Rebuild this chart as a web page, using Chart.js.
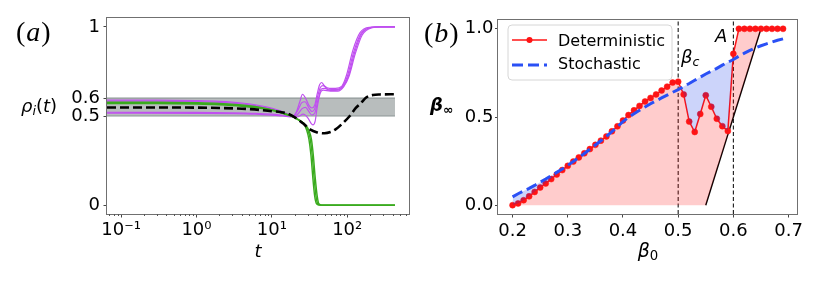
<!DOCTYPE html>
<html><head><meta charset="utf-8">
<script src="https://cdn.jsdelivr.net/npm/chart.js@4.4.1/dist/chart.umd.min.js"></script>
<style>
html,body{margin:0;padding:0;background:#fff;}
#wrap{position:relative;width:830px;height:286px;overflow:hidden;font-family:"DejaVu Sans";background:#fff;}
.pane{position:absolute;top:0;width:415px;height:286px;}
.lbl{position:absolute;white-space:nowrap;line-height:1;color:#000;font-family:"DejaVu Sans";}
.serif{font-family:"Liberation Serif";letter-spacing:1px;}
.c{transform:translateX(-50%);}
sub{font-size:0.7em;vertical-align:-0.22em;line-height:0;}
</style></head><body>
<div id="wrap">
  <div class="pane" style="left:0"><canvas id="ca"></canvas></div>
  <div class="pane" style="left:415px"><canvas id="cb"></canvas></div>
  <div class="lbl serif" style="left:16px;top:18px;font-size:28px">(<i>a</i>)</div>
  <div class="lbl serif" style="left:424px;top:19px;font-size:28px">(<i>b</i>)</div>
  <div class="lbl" style="left:21px;top:97px;font-size:18px"><i>ρ</i><sub><i>i</i></sub>(<i>t</i>)</div>
  <div class="lbl" style="left:430px;top:96px;font-size:18px;font-weight:bold"><i>β</i><sub>∞</sub></div>
  <div class="lbl c" style="left:258px;top:242px;font-size:18px"><i>t</i></div>
  <div class="lbl c" style="left:648px;top:241px;font-size:19px"><i>β</i><sub>0</sub></div>
  <div class="lbl" style="left:681px;top:48px;font-size:18px"><i>β</i><sub><i>c</i></sub></div>
  <div class="lbl" style="left:715px;top:27px;font-size:18px"><i>A</i></div>
</div>
<script>
// ---------- Panel (a) data: rho_i(t) trajectories ----------
const tBlack = [0.065,0.3,1,2,4,7,10,13,17,22,27,32,40,50,60,70,85,108,130,150,180,220,272,430];
const rhoBlack = [0.548,0.548,0.547,0.545,0.541,0.534,0.527,0.522,0.51,0.482,0.452,0.425,0.408,0.403,0.41,0.425,0.455,0.5,0.545,0.57,0.605,0.618,0.621,0.622];

const tP1 = [0.065,0.3,1,2,4,6,9,12,15,19,21,23.5,25.5,28,31,34,37,40,43,45.7,50,58,70,85,98,119,148,200,260,430];
const rhoP1 = [0.589,0.589,0.586,0.582,0.573,0.563,0.548,0.533,0.518,0.50,0.52,0.58,0.622,0.60,0.56,0.545,0.56,0.625,0.675,0.688,0.668,0.655,0.655,0.668,0.73,0.87,0.968,0.998,1.0,1.0];
const tP2 = [0.065,0.3,1,2,4,6,9,12,15,19,22,25,27.5,31,34,37,40,44,48,56,70,85,100,122,152,205,260,430];
const rhoP2 = [0.584,0.584,0.581,0.577,0.568,0.558,0.544,0.53,0.516,0.50,0.53,0.575,0.58,0.545,0.525,0.54,0.60,0.66,0.67,0.65,0.648,0.662,0.72,0.86,0.962,0.997,1.0,1.0];
const tP3 = [0.065,1,3,6,10,14,19,22,25,28,31,34,37,41,45,50,60,75,90,103,125,155,210,270,430];
const rhoP3 = [0.521,0.52,0.518,0.515,0.51,0.504,0.497,0.51,0.54,0.548,0.525,0.505,0.515,0.59,0.65,0.655,0.643,0.645,0.67,0.72,0.855,0.96,0.997,1.0,1.0];
const tP4 = [0.065,1,3,6,10,14,19,22,26,30,33,35,37.5,40,44,48,60,75,90,105,128,158,215,270,430];
const rhoP4 = [0.516,0.515,0.513,0.51,0.505,0.5,0.495,0.495,0.51,0.49,0.46,0.45,0.47,0.55,0.63,0.645,0.64,0.64,0.665,0.72,0.85,0.955,0.996,1.0,1.0];

const tG1 = [0.065,0.3,1,2,4,6,9,12,15,19,23,26,29,31,33,35,37,39,42,60,430];
const rhoG1 = [0.578,0.578,0.575,0.571,0.562,0.553,0.54,0.527,0.513,0.497,0.478,0.46,0.42,0.37,0.28,0.15,0.05,0.008,0,0,0];
const tG2 = [0.065,0.3,1,2,4,6,9,12,15,19,23,27,30,32.3,34.3,36.4,38.5,40.5,44,60,430];
const rhoG2 = [0.574,0.574,0.571,0.567,0.558,0.55,0.537,0.525,0.511,0.496,0.476,0.455,0.42,0.37,0.28,0.15,0.05,0.008,0,0,0];
const tG3 = [0.065,0.3,1,2,4,6,9,12,15,19,23,28,31,33.5,35.5,37.7,40,42,46,60,430];
const rhoG3 = [0.57,0.57,0.567,0.563,0.555,0.547,0.535,0.523,0.51,0.495,0.475,0.45,0.42,0.37,0.28,0.15,0.05,0.008,0,0,0];

const bandT = [0.065,430];
const bandLow = 0.5, bandHigh = 0.6;

const xTicksA = [0.1,1,10,100];
const xTickLabelsA = ['10\u207B\u00B9','10\u2070','10\u00B9','10\u00B2'];
const xMinorA = [0.07,0.08,0.09,0.2,0.3,0.4,0.5,0.6,0.7,0.8,0.9,2,3,4,5,6,7,8,9,20,30,40,50,60,70,80,90,200,300,400,500,600];
const yTicksA = [0,0.5,0.6,1];
const yTickLabelsA = ['0','0.5','0.6','1'];

// ---------- Panel (b) data ----------
const beta0 = [0.20,0.21,0.22,0.23,0.24,0.25,0.26,0.27,0.28,0.29,0.30,0.31,0.32,0.33,0.34,0.35,0.36,0.37,0.38,0.39,0.40,0.41,0.42,0.43,0.44,0.45,0.46,0.47,0.48,0.49,0.50,0.51,0.52,0.53,0.54,0.55,0.56,0.57,0.58,0.59,0.60,0.61,0.62,0.63,0.64,0.65,0.66,0.67,0.68,0.69];
const deterministic = [0,0.01,0.028,0.05,0.075,0.1,0.123,0.148,0.174,0.199, 0.223,0.247,0.271,0.294,0.318,0.342,0.366,0.39,0.419,0.447, 0.48,0.511,0.538,0.563,0.588,0.608,0.628,0.65,0.672,0.695, 0.70,0.628,0.474,0.415,0.517,0.623,0.558,0.49,0.448,0.42, 0.858,1,1,1,1,1,1,1,1,1];
const stochastic = [0.047,0.065,0.08,0.095,0.112,0.13,0.148,0.167,0.186,0.205, 0.226,0.248,0.27,0.293,0.317,0.341,0.365,0.39,0.417,0.445, 0.474,0.498,0.518,0.538,0.557,0.575,0.592,0.608,0.624,0.64, 0.655,0.673,0.69,0.708,0.726,0.744,0.76,0.776,0.794,0.81, 0.826,0.845,0.862,0.878,0.892,0.904,0.915,0.925,0.935,0.943];
const lineX = [0.55,0.65];
const lineY = [0,1];
const fillBaseX = [0.20,0.55,0.65];
const fillBaseY = [0,0,1];
const betaC = 0.5, betaA = 0.6;
const xTicksB = [0.2,0.3,0.4,0.5,0.6,0.7];
const xTickLabelsB = ['0.2','0.3','0.4','0.5','0.6','0.7'];
const yTicksB = [0,0.5,1];
const yTickLabelsB = ['0.0','0.5','1.0'];

// ---------- helpers ----------
const pts = (xs, ys) => xs.map((x, i) => ({x, y: ys[i]}));
const PURPLE = '#c050f0', GREEN = '#3aab1e';
const FONT = {family: 'DejaVu Sans', size: 18};

const framePlugin = {
  id: 'frame',
  afterDatasetsDraw(chart) {
    const {ctx, chartArea: a} = chart;
    ctx.save();
    ctx.strokeStyle = '#707070';
    ctx.lineWidth = 1;
    ctx.strokeRect(Math.round(a.left) - 0.5, Math.round(a.top) - 0.5, Math.round(a.right - a.left) + 1, Math.round(a.bottom - a.top) + 1);
    ctx.restore();
  }
};

const minorTickPlugin = {
  id: 'minorTicks',
  afterDraw(chart) {
    const {ctx, chartArea: a} = chart;
    const xs = chart.scales.x;
    ctx.save();
    ctx.strokeStyle = '#555';
    ctx.lineWidth = 1;
    ctx.beginPath();
    for (const t of xMinorA) {
      const px = Math.round(xs.getPixelForValue(t)) + 0.5;
      ctx.moveTo(px, a.bottom);
      ctx.lineTo(px, a.bottom + 2);
    }
    ctx.stroke();
    ctx.restore();
  }
};

const legendPlugin = {
  id: 'boxLegend',
  afterDraw(chart) {
    const ctx = chart.ctx;
    const ds = chart.data.datasets;
    ctx.save();
    const x = 93, y = 25, w = 164, h = 55, r = 4;
    ctx.beginPath();
    ctx.moveTo(x + r, y); ctx.lineTo(x + w - r, y); ctx.arcTo(x + w, y, x + w, y + r, r);
    ctx.lineTo(x + w, y + h - r); ctx.arcTo(x + w, y + h, x + w - r, y + h, r);
    ctx.lineTo(x + r, y + h); ctx.arcTo(x, y + h, x, y + h - r, r);
    ctx.lineTo(x, y + r); ctx.arcTo(x, y, x + r, y, r); ctx.closePath();
    ctx.fillStyle = 'rgba(255,255,255,0.85)';
    ctx.fill();
    ctx.strokeStyle = '#d6d6d6';
    ctx.lineWidth = 1;
    ctx.stroke();
    ctx.strokeStyle = ds[0].borderColor; ctx.lineWidth = 1.5;
    ctx.beginPath(); ctx.moveTo(97, 40); ctx.lineTo(132, 40); ctx.stroke();
    ctx.fillStyle = ds[0].borderColor;
    ctx.beginPath(); ctx.arc(114.5, 40, 3, 0, Math.PI * 2); ctx.fill();
    ctx.strokeStyle = ds[1].borderColor; ctx.lineWidth = 3; ctx.setLineDash([11, 5]);
    ctx.beginPath(); ctx.moveTo(97, 65); ctx.lineTo(132, 65); ctx.stroke();
    ctx.setLineDash([]);
    ctx.fillStyle = '#000';
    ctx.font = '16px "DejaVu Sans"';
    ctx.textBaseline = 'middle';
    ctx.fillText(ds[0].label, 143, 41.5);
    ctx.fillText(ds[1].label, 143, 65);
    ctx.restore();
  }
};

// ---------- Chart (a) ----------
const lineA = (t, r, color, width, order, extra) => Object.assign({
  data: pts(t, r), borderColor: color, borderWidth: width, pointRadius: 0,
  cubicInterpolationMode: 'monotone', fill: false, order
}, extra || {});

new Chart(document.getElementById('ca'), {
  type: 'line',
  data: {
    datasets: [
      lineA(tBlack, rhoBlack, '#000', 2.6, 1, {label: 'mean', borderDash: [9, 4]}),
      lineA(tG1, rhoG1, GREEN, 1.4, 2, {label: 'g1'}),
      lineA(tG2, rhoG2, GREEN, 1.4, 2, {label: 'g2'}),
      lineA(tG3, rhoG3, GREEN, 1.4, 2, {label: 'g3'}),
      lineA(tP1, rhoP1, PURPLE, 1.2, 3, {label: 'p1'}),
      lineA(tP2, rhoP2, PURPLE, 1.2, 3, {label: 'p2'}),
      lineA(tP3, rhoP3, PURPLE, 1.2, 3, {label: 'p3'}),
      lineA(tP4, rhoP4, PURPLE, 1.2, 3, {label: 'p4'}),
      {label: 'band low', data: bandT.map(x => ({x, y: bandLow})), borderColor: 'rgb(140,150,150)', borderWidth: 1.2, pointRadius: 0, fill: false, order: 10},
      {label: 'band high', data: bandT.map(x => ({x, y: bandHigh})), borderColor: 'rgb(140,150,150)', borderWidth: 1.2, pointRadius: 0, fill: '-1', backgroundColor: 'rgb(184,189,189)', order: 11}
    ]
  },
  options: {
    responsive: true, maintainAspectRatio: false, animation: false, devicePixelRatio: 1,
    layout: {autoPadding: false, padding: {left: 0, right: 6, top: 18, bottom: 0}},
    plugins: {legend: {display: false}, tooltip: {enabled: false}},
    scales: {
      x: {
        type: 'logarithmic', min: 0.065, max: 660,
        afterBuildTicks(s) { s.ticks = xTicksA.map(v => ({value: v, major: true})); },
        afterFit(s) { s.height = 72; },
        grid: {drawOnChartArea: false, tickLength: 3.5, tickColor: '#444'},
        border: {display: false},
        ticks: {autoSkip: false, maxRotation: 0, padding: 2, font: FONT, color: '#000', callback: (v, i) => xTickLabelsA[i]}
      },
      y: {
        type: 'linear', min: -0.05, max: 1.05,
        afterBuildTicks(s) { s.ticks = yTicksA.map(v => ({value: v})); },
        afterFit(s) { s.width = 107; },
        grid: {drawOnChartArea: false, tickLength: 3.5, tickColor: '#444'},
        border: {display: false},
        ticks: {autoSkip: false, padding: 3.5, font: FONT, color: '#000', callback: (v, i) => yTickLabelsA[i]}
      }
    }
  },
  plugins: [framePlugin, minorTickPlugin]
});

// ---------- Chart (b) ----------
new Chart(document.getElementById('cb'), {
  type: 'line',
  data: {
    datasets: [
      {label: 'Deterministic', data: pts(beta0, deterministic), borderColor: 'rgb(255,20,20)', borderWidth: 1.5,
       pointRadius: 3, pointBackgroundColor: 'rgb(255,20,20)', pointBorderColor: 'rgb(255,20,20)', pointBorderWidth: 0.5,
       fill: {target: 3, above: 'rgba(255,0,0,0.2)', below: 'rgba(255,0,0,0.2)'}, order: 2},
      {label: 'Stochastic', data: pts(beta0, stochastic), borderColor: '#2a50f5', borderWidth: 3, borderDash: [11, 5],
       pointRadius: 0, fill: {target: 0, above: 'rgba(0,40,230,0.2)', below: 'rgba(0,0,0,0)'}, order: 1},
      {label: 'boundary', data: pts(lineX, lineY), borderColor: '#000', borderWidth: 1.4, pointRadius: 0, fill: false, order: 3},
      {label: 'fill base', data: pts(fillBaseX, fillBaseY), borderColor: 'rgba(0,0,0,0)', borderWidth: 0, pointRadius: 0, fill: false, order: 20},
      {label: 'beta_c', data: [{x: betaC, y: -0.05}, {x: betaC, y: 1.05}], borderColor: '#000', borderWidth: 1, borderDash: [4, 2.5], pointRadius: 0, fill: false, order: 4},
      {label: 'A', data: [{x: betaA, y: -0.05}, {x: betaA, y: 1.05}], borderColor: '#000', borderWidth: 1, borderDash: [4, 2.5], pointRadius: 0, fill: false, order: 4}
    ]
  },
  options: {
    responsive: true, maintainAspectRatio: false, animation: false, devicePixelRatio: 1,
    layout: {autoPadding: false, padding: {left: 0, right: 33, top: 20, bottom: 0}},
    plugins: {legend: {display: false}, tooltip: {enabled: false}},
    scales: {
      x: {
        type: 'linear', min: 0.1736, max: 0.7153,
        afterBuildTicks(s) { s.ticks = xTicksB.map(v => ({value: v})); },
        afterFit(s) { s.height = 72; },
        grid: {drawOnChartArea: false, tickLength: 3.5, tickColor: '#444'},
        border: {display: false},
        ticks: {autoSkip: false, maxRotation: 0, padding: 3, font: FONT, color: '#000', callback: (v, i) => xTickLabelsB[i]}
      },
      y: {
        type: 'linear', min: -0.05, max: 1.05,
        afterBuildTicks(s) { s.ticks = yTicksB.map(v => ({value: v})); },
        afterFit(s) { s.width = 83; },
        grid: {drawOnChartArea: false, tickLength: 3, tickColor: '#444'},
        border: {display: false},
        ticks: {autoSkip: false, padding: 1.5, font: FONT, color: '#000', callback: (v, i) => yTickLabelsB[i]}
      }
    }
  },
  plugins: [framePlugin, legendPlugin]
});
</script>
</body></html>
